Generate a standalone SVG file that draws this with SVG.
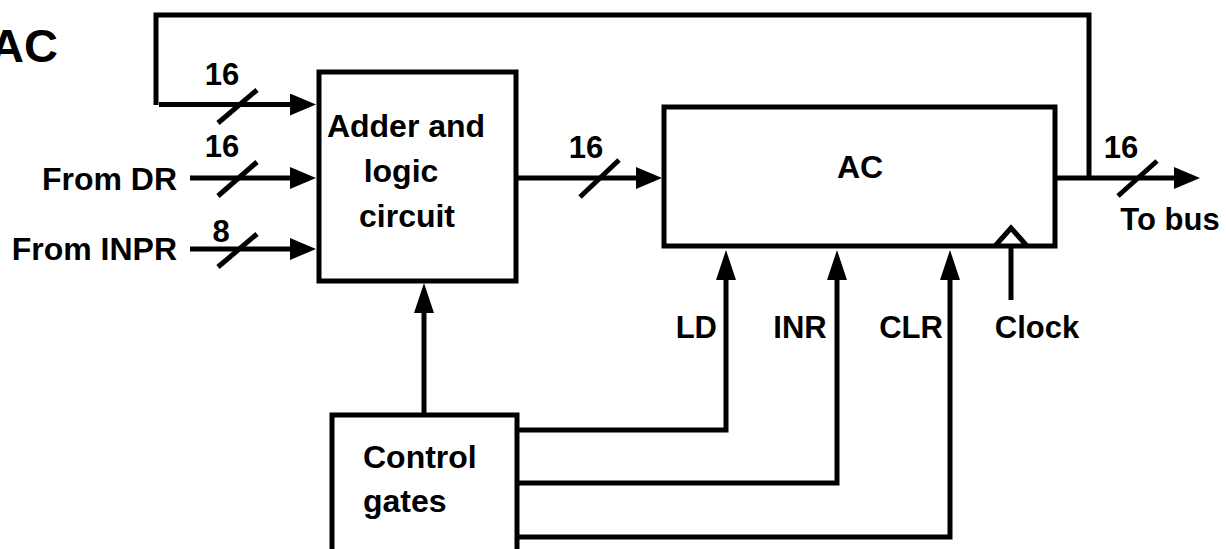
<svg xmlns="http://www.w3.org/2000/svg" width="1226" height="549" viewBox="0 0 1226 549">
<style>
.ln{fill:none;stroke:#000;stroke-width:5}
.box{fill:#fff;stroke:#000;stroke-width:5}
text{font-family:"Liberation Sans",Arial,sans-serif;font-weight:bold;font-size:31px;fill:#000}
.big{font-size:32px}
.m{text-anchor:middle}
.e{text-anchor:end}
</style>
<defs>
<marker id="arrH" markerUnits="userSpaceOnUse" markerWidth="26" markerHeight="22" refX="16" refY="11" orient="auto"><path d="M0,0 L26,11 L0,22 z" fill="#000"/></marker>
<marker id="arrV" markerUnits="userSpaceOnUse" markerWidth="30" markerHeight="20" refX="20" refY="10" orient="auto"><path d="M0,0 L30,10 L0,20 z" fill="#000"/></marker>
</defs>
<rect width="1226" height="549" fill="#fff"/>
<text x="58" y="62" class="e" style="font-size:47px">AC</text>
<g id="connectors">
<polyline class="ln" points="1089,178 1089,15 156,15 156,105"/>
<line class="ln" x1="159" y1="104.5" x2="306" y2="104.5" marker-end="url(#arrH)"/>
<line class="ln" x1="218" y1="123" x2="257" y2="90"/>
<text x="222" y="85" class="m">16</text>
<line class="ln" x1="190" y1="178" x2="306" y2="178" marker-end="url(#arrH)"/>
<line class="ln" x1="218" y1="196" x2="257" y2="162"/>
<text x="222" y="157" class="m">16</text>
<text x="177" y="190" class="e big">From DR</text>
<line class="ln" x1="190" y1="249" x2="306" y2="249" marker-end="url(#arrH)"/>
<line class="ln" x1="218" y1="267" x2="257" y2="234"/>
<text x="221" y="242" class="m">8</text>
<text x="177" y="260" class="e big">From INPR</text>
<line class="ln" x1="518" y1="178" x2="652" y2="178" marker-end="url(#arrH)"/>
<line class="ln" x1="580" y1="197" x2="619" y2="160"/>
<text x="586" y="158" class="m">16</text>
<line class="ln" x1="1057" y1="178" x2="1190" y2="178" marker-end="url(#arrH)"/>
<line class="ln" x1="1118" y1="196" x2="1157" y2="161"/>
<text x="1121" y="158" class="m">16</text>
<text x="1170" y="230" class="m">To bus</text>
<line class="ln" x1="424" y1="416" x2="424" y2="293" marker-end="url(#arrV)"/>
<polyline class="ln" points="519,430 726,430 726,260" marker-end="url(#arrV)"/>
<polyline class="ln" points="519,483 837,483 837,260" marker-end="url(#arrV)"/>
<polyline class="ln" points="519,537 950,537 950,260" marker-end="url(#arrV)"/>
<text x="717" y="338" class="e">LD</text>
<text x="800" y="338" class="m">INR</text>
<text x="911" y="338" class="m">CLR</text>
<text x="1037" y="338" class="m">Clock</text>
<line class="ln" x1="1011" y1="300" x2="1011" y2="247"/>
</g>
<g id="adder">
<rect class="box" x="319" y="72" width="197" height="209"/>
<text x="406" y="137" class="m big">Adder and</text>
<text x="401" y="182" class="m big">logic</text>
<text x="407" y="227" class="m big">circuit</text>
</g>
<g id="ac">
<rect class="box" x="664" y="107" width="391" height="139"/>
<polyline class="ln" points="995,246 1011,228 1027,246"/>
<text x="860" y="178" class="m big">AC</text>
</g>
<g id="control">
<path class="box" d="M332,560 L332,415 L517,415 L517,560"/>
<text x="363" y="468" class="big">Control</text>
<text x="363" y="512" class="big">gates</text>
</g>
</svg>
